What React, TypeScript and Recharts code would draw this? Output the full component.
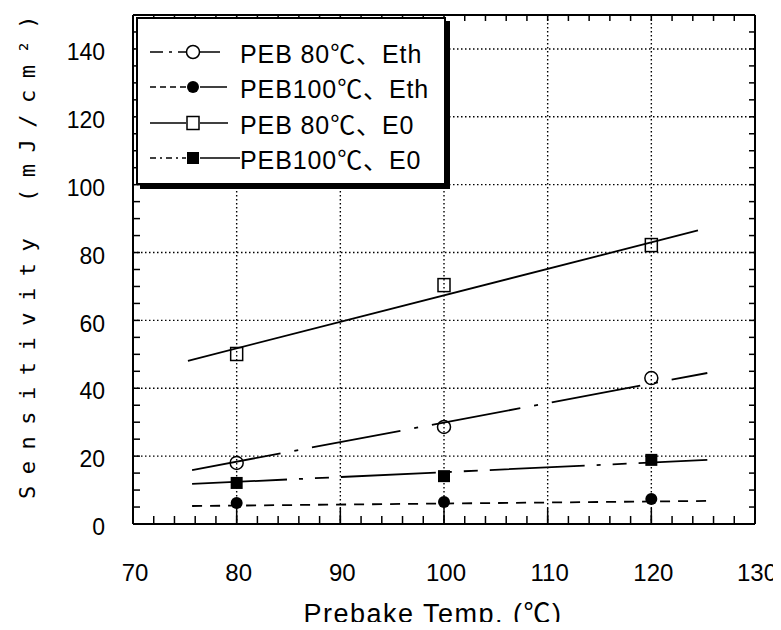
import {
  CartesianGrid,
  ComposedChart,
  Legend,
  Line,
  Scatter,
  XAxis,
  YAxis
} from "recharts";

// measured values (mJ/cm2) at each prebake temperature
const TEMPS = [80, 100, 120];
const ETH_PEB80 = [18.0, 28.6, 43.0];
const ETH_PEB100 = [6.2, 6.5, 7.4];
const E0_PEB80 = [50.1, 70.4, 82.2];
const E0_PEB100 = [12.1, 14.1, 18.9];

// fitted straight lines: start / end temperature and value
const FIT_X = [75.7, 125.4];
const FIT_X_E0_PEB80 = [75.3, 124.5];
const FIT_ETH_PEB80 = [15.9, 44.5];
const FIT_ETH_PEB100 = [5.3, 6.8];
const FIT_E0_PEB80 = [48.1, 86.5];
const FIT_E0_PEB100 = [11.8, 18.9];

const X_TICKS = [70, 80, 90, 100, 110, 120, 130];
const X_MINOR_TICKS = [
  70, 72, 74, 76, 78, 80, 82, 84, 86, 88, 90, 92, 94, 96, 98, 100,
  102, 104, 106, 108, 110, 112, 114, 116, 118, 120, 122, 124, 126, 128, 130
];
const Y_TICKS = [0, 20, 40, 60, 80, 100, 120, 140];
const Y_MINOR_TICKS = [
  0, 5, 10, 15, 20, 25, 30, 35, 40, 45, 50, 55, 60, 65, 70, 75,
  80, 85, 90, 95, 100, 105, 110, 115, 120, 125, 130, 135, 140, 145, 150
];

const SANS = "'Liberation Sans', Arial, 'Noto Sans CJK JP', sans-serif";
const MONO = "'DejaVu Sans Mono', monospace";

type MarkerKind = "openCircle" | "dot" | "openSquare" | "square";

interface SeriesDef {
  key: string;
  name: string;
  values: number[];
  fitX: number[];
  fit: number[];
  marker: MarkerKind;
  dash?: string;
  legendLeftDash?: string;
  legendEnd: number;
}

const SERIES: SeriesDef[] = [
  {
    key: "eth80",
    name: "PEB 80℃、Eth",
    values: ETH_PEB80,
    fitX: FIT_X,
    fit: FIT_ETH_PEB80,
    marker: "openCircle",
    dash: "90 14 4 14",
    legendLeftDash: "13 6 3 6",
    legendEnd: 74
  },
  {
    key: "eth100",
    name: "PEB100℃、Eth",
    values: ETH_PEB100,
    fitX: FIT_X,
    fit: FIT_ETH_PEB100,
    marker: "dot",
    dash: "10 8",
    legendLeftDash: "6 4",
    legendEnd: 81
  },
  {
    key: "e080",
    name: "PEB 80℃、E0",
    values: E0_PEB80,
    fitX: FIT_X_E0_PEB80,
    fit: FIT_E0_PEB80,
    marker: "openSquare",
    legendEnd: 82
  },
  {
    key: "e0100",
    name: "PEB100℃、E0",
    values: E0_PEB100,
    fitX: FIT_X,
    fit: FIT_E0_PEB100,
    marker: "square",
    dash: "95 12 4 12 14 12",
    legendLeftDash: "6 4 2 4",
    legendEnd: 94
  }
];

// chart-level rows so the tick-only axes have data to build a scale from
const ROWS = TEMPS.map((t) => ({ x: t }));

const noLabel = () => <g />;
const TICK_LINE = { stroke: "#000", strokeWidth: 1.5 };

function Marker({ cx, cy, kind }: { cx?: number; cy?: number; kind: MarkerKind }) {
  if (cx == null || cy == null) return null;
  switch (kind) {
    case "openCircle":
      return <circle cx={cx} cy={cy} r={6.5} fill="none" stroke="#000" strokeWidth={1.5} />;
    case "dot":
      return <circle cx={cx} cy={cy} r={6} fill="#000" />;
    case "openSquare":
      return (
        <rect x={cx - 6} y={cy - 6.5} width={12} height={13} fill="none" stroke="#000" strokeWidth={1.5} />
      );
    default:
      return <rect x={cx - 6} y={cy - 6} width={12} height={12} fill="#000" />;
  }
}

function LegendBox() {
  return (
    <div
      style={{
        position: "relative",
        width: 310,
        height: 168,
        boxSizing: "border-box",
        border: "2px solid #000",
        background: "#fff",
        boxShadow: "4px 4px 0 #000"
      }}
    >
      {SERIES.map((s, i) => (
        <div
          key={s.key}
          style={{
            position: "absolute",
            left: 8,
            top: 15.5 + i * 35.3,
            height: 35,
            display: "flex",
            alignItems: "center",
            whiteSpace: "nowrap"
          }}
        >
          <svg width={94} height={20} style={{ display: "block" }}>
            <line x1={4} y1={10} x2={40} y2={10} stroke="#000" strokeWidth={1.5} strokeDasharray={s.legendLeftDash} />
            <line x1={54} y1={10} x2={s.legendEnd} y2={10} stroke="#000" strokeWidth={1.5} />
            <Marker cx={47} cy={10} kind={s.marker} />
          </svg>
          <span style={{ fontFamily: SANS, fontSize: 25, letterSpacing: 0.9, color: "#000" }}>{s.name}</span>
        </div>
      ))}
    </div>
  );
}

function XTitle({ viewBox }: any) {
  if (!viewBox) return null;
  const cx = viewBox.x + viewBox.width / 2 - 11;
  return (
    <text x={cx} y={viewBox.y + 99} textAnchor="middle" fill="#000" fontFamily={SANS} fontSize={27} letterSpacing={1.5}>
      Prebake Temp. (℃)
    </text>
  );
}

function YTitle({ viewBox }: any) {
  if (!viewBox) return null;
  const cx = viewBox.x + 27;
  const cy = viewBox.y + viewBox.height / 2 - 18;
  return (
    <text
      x={cx}
      y={cy}
      transform={`rotate(-90 ${cx} ${cy})`}
      textAnchor="middle"
      dominantBaseline="central"
      fill="#000"
      fontFamily={MONO}
      fontSize={22}
      letterSpacing={11.5}
    >
      Sensitivity (mJ/cm²)
    </text>
  );
}

export default function App() {
  return (
    <div style={{ margin: -8, background: "#fff" }}>
      <ComposedChart
        width={781}
        height={630}
        data={ROWS}
        margin={{ top: 15, right: 26, bottom: 6, left: 0 }}
      >
        <CartesianGrid xAxisId="x" yAxisId="y" stroke="#000" strokeWidth={1.4} strokeDasharray="1.5 2.5" />

        <XAxis
          xAxisId="x"
          type="number"
          dataKey="x"
          domain={[70, 130]}
          ticks={X_TICKS}
          height={100}
          tickSize={0}
          tickMargin={40}
          tickLine={false}
          axisLine={{ stroke: "#000", strokeWidth: 2 }}
          tick={{ fill: "#000", fontSize: 24, fontFamily: SANS, dx: 2 }}
          label={(props: any) => <XTitle {...props} />}
        />
        <XAxis
          xAxisId="xMajor"
          type="number"
          dataKey="x"
          domain={[70, 130]}
          allowDataOverflow
          ticks={X_TICKS}
          interval={0}
          mirror
          height={1}
          tick={noLabel}
          tickSize={16}
          axisLine={false}
          tickLine={TICK_LINE}
        />
        <XAxis
          xAxisId="xMinor"
          type="number"
          dataKey="x"
          domain={[70, 130]}
          allowDataOverflow
          ticks={X_MINOR_TICKS}
          interval={0}
          mirror
          height={1}
          tick={noLabel}
          tickSize={7}
          axisLine={false}
          tickLine={TICK_LINE}
        />
        <XAxis
          xAxisId="xTop"
          orientation="top"
          type="number"
          dataKey="x"
          domain={[70, 130]}
          allowDataOverflow
          ticks={X_MINOR_TICKS}
          interval={0}
          mirror
          height={1}
          tick={noLabel}
          tickSize={6}
          axisLine={{ stroke: "#000", strokeWidth: 2 }}
          tickLine={TICK_LINE}
        />

        <YAxis
          yAxisId="y"
          type="number"
          dataKey="y"
          domain={[0, 150]}
          ticks={Y_TICKS}
          width={133}
          tickSize={0}
          tickMargin={28}
          tickLine={false}
          axisLine={{ stroke: "#000", strokeWidth: 2 }}
          tick={{ fill: "#000", fontSize: 23, fontFamily: SANS, dy: 3 }}
          label={(props: any) => <YTitle {...props} />}
        />
        <YAxis
          yAxisId="yMinor"
          type="number"
          domain={[0, 150]}
          allowDataOverflow
          ticks={Y_MINOR_TICKS}
          interval={0}
          mirror
          width={1}
          tick={noLabel}
          tickSize={7}
          axisLine={false}
          tickLine={TICK_LINE}
        />
        <YAxis
          yAxisId="yRight"
          orientation="right"
          type="number"
          domain={[0, 150]}
          allowDataOverflow
          ticks={Y_MINOR_TICKS}
          interval={0}
          mirror
          width={1}
          tick={noLabel}
          tickSize={6}
          axisLine={{ stroke: "#000", strokeWidth: 2 }}
          tickLine={TICK_LINE}
        />

        {SERIES.map((s) => (
          <Line
            key={`${s.key}-fit`}
            xAxisId="x"
            yAxisId="y"
            data={s.fitX.map((x, i) => ({ x, y: s.fit[i] }))}
            dataKey="y"
            type="linear"
            stroke="#000"
            strokeWidth={1.8}
            strokeDasharray={s.dash}
            dot={false}
            activeDot={false}
            legendType="none"
            isAnimationActive={false}
          />
        ))}

        {SERIES.map((s) => (
          <Scatter
            key={`${s.key}-pts`}
            name={s.name}
            xAxisId="x"
            yAxisId="y"
            data={TEMPS.map((t, i) => ({ x: t, y: s.values[i] }))}
            shape={(p: any) => <Marker cx={p.cx} cy={p.cy} kind={s.marker} />}
            isAnimationActive={false}
          />
        ))}

        <Legend
          layout="vertical"
          align="center"
          verticalAlign="middle"
          wrapperStyle={{ left: 136, top: 17 }}
          content={() => <LegendBox />}
        />
      </ComposedChart>
    </div>
  );
}
